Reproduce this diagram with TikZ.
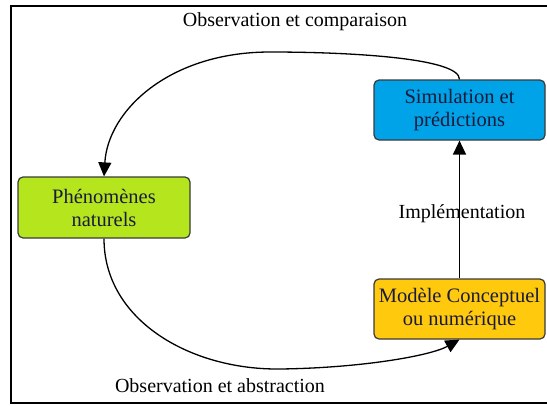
\documentclass[tikz,border=0pt]{standalone}
\usepackage{fontspec}
\setmainfont{Liberation Serif}
\usetikzlibrary{arrows.meta}
\definecolor{simblue}{HTML}{00A2E8}
\definecolor{phengreen}{HTML}{B5E61D}
\definecolor{modyellow}{HTML}{FFC90E}
\definecolor{boxtext}{HTML}{1A1A3A}
\definecolor{boxline}{HTML}{3A3A3A}
\tikzset{
  box/.style={draw=boxline, line width=1.2pt, rounded corners=5pt, minimum width=171pt, minimum height=60pt, align=center, inner sep=0pt, text=boxtext, font=\fontsize{20.5}{23}\selectfont},
  lbl/.style={font=\fontsize{20}{23}\selectfont, inner sep=0pt},
  conn/.style={line width=1.3pt, -{Triangle[length=14pt,width=13pt]}}
}
\begin{document}
\begin{tikzpicture}[x=1pt,y=-1pt]
\useasboundingbox (0,0) rectangle (547,405);
\draw[line width=2.2pt] (547,6) -- (11,6) -- (11,403) -- (547,403);
\node[box, fill=simblue, minimum width=171pt] (sim) at (459.5,110) {Simulation et\\prédictions};
\node[box, fill=phengreen, minimum width=172pt, minimum height=61pt] (phen) at (104,207.5) {Phénomènes\\naturels};
\node[box, fill=modyellow] (mod) at (459.5,309) {Modèle Conceptuel\\ou numérique};
\node[lbl] (lt) at (295,22) {Observation et comparaison};
\node[lbl] (li) at (462,214) {Implémentation};
\node[lbl] (lb) at (220,386) {Observation et abstraction};
\coordinate (top) at (270,52);
\coordinate (bot) at (280,369);
\draw[conn] (sim.north) .. controls (460,58) and (350,52) .. (top) .. controls (170,52) and (108,110) .. (phen.north);
\draw[conn] (phen.south) .. controls (104,320) and (190,370) .. (bot) .. controls (360,368) and (430,356) .. (mod.south);
\draw[conn] (mod.north) -- (sim.south);
\end{tikzpicture}
\end{document}
